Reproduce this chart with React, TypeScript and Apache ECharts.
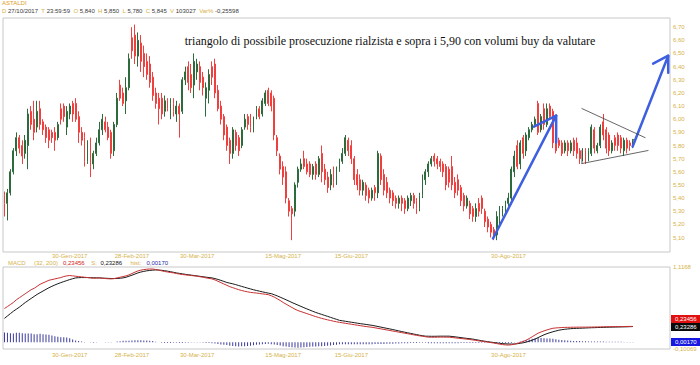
import React, { useEffect, useRef } from 'react';
import * as echarts from 'echarts';

// ---------- DATA ----------
const opens = [
  5.42, 5.36, 5.44, 5.60, 5.76, 5.86, 5.80, 5.74, 5.80, 6.06,
  6.00, 5.94, 6.08, 5.98, 5.94, 5.92, 5.90, 5.90, 5.86, 6.08,
  6.10, 5.94, 6.04, 6.12, 6.12, 6.02, 5.90, 5.86, 5.68, 5.82,
  5.66, 5.74, 5.82, 5.92, 5.98, 5.94, 5.90, 5.76, 5.96, 6.26,
  6.20, 6.14, 6.24, 6.62, 6.64, 6.48, 6.58, 6.50, 6.44, 6.42,
  6.32, 6.20, 6.16, 6.16, 6.06, 6.14, 6.08, 6.12, 6.04, 6.10,
  6.06, 6.30, 6.40, 6.34, 6.26, 6.36, 6.40, 6.32, 6.16, 6.22,
  6.40, 6.42, 6.22, 6.10, 6.02, 5.94, 5.84, 5.74, 5.90, 5.86,
  5.80, 5.94, 6.02, 6.00, 5.92, 6.02, 6.08, 6.04, 6.12, 6.22,
  6.20, 6.16, 5.86, 5.72, 5.64, 5.60, 5.38, 5.32, 5.30, 5.52,
  5.62, 5.70, 5.66, 5.66, 5.58, 5.66, 5.58, 5.74, 5.62, 5.56,
  5.50, 5.62, 5.54, 5.62, 5.68, 5.74, 5.84, 5.80, 5.70, 5.58,
  5.54, 5.46, 5.50, 5.46, 5.40, 5.48, 5.44, 5.72, 5.58, 5.52,
  5.46, 5.44, 5.40, 5.36, 5.40, 5.38, 5.32, 5.38, 5.42, 5.38,
  5.32, 5.42, 5.54, 5.60, 5.66, 5.72, 5.70, 5.68, 5.66, 5.64,
  5.62, 5.64, 5.52, 5.54, 5.48, 5.42, 5.34, 5.36, 5.32, 5.26,
  5.36, 5.40, 5.30, 5.24, 5.20, 5.16, 5.12, 5.22, 5.28, 5.30,
  5.36, 5.40, 5.60, 5.80, 5.66, 5.86, 5.76, 5.86, 5.92, 5.96,
  6.12, 5.92, 6.08, 5.96, 6.10, 6.06, 5.86, 5.84, 5.82, 5.76,
  5.82, 5.76, 5.84, 5.82, 5.76, 5.72, 5.76, 5.70, 5.74, 5.92,
  5.76, 5.80, 5.98, 5.92, 5.88, 5.76, 5.86, 5.88, 5.86, 5.76,
  5.84, 5.82, 5.84,
];
const closes = [
  5.36, 5.44, 5.60, 5.76, 5.86, 5.78, 5.72, 5.84, 6.04, 5.96,
  5.90, 6.06, 5.96, 5.92, 5.86, 5.84, 5.86, 5.84, 5.96, 6.00,
  6.02, 6.06, 6.10, 6.04, 6.00, 5.90, 5.84, 5.68, 5.78, 5.64,
  5.74, 5.82, 5.92, 6.00, 5.92, 5.86, 5.74, 5.96, 6.16, 6.16,
  6.12, 6.24, 6.46, 6.52, 6.48, 6.60, 6.44, 6.40, 6.34, 6.28,
  6.18, 6.12, 6.08, 6.04, 6.14, 6.08, 6.12, 6.06, 6.10, 6.04,
  6.30, 6.36, 6.28, 6.24, 6.44, 6.42, 6.28, 6.24, 6.24, 6.34,
  6.32, 6.20, 6.08, 6.00, 5.88, 5.80, 5.74, 5.92, 5.80, 5.76,
  5.92, 6.00, 5.96, 5.94, 6.00, 6.08, 6.02, 6.14, 6.20, 6.12,
  6.10, 5.88, 5.76, 5.62, 5.56, 5.40, 5.30, 5.28, 5.50, 5.62,
  5.66, 5.64, 5.60, 5.58, 5.64, 5.58, 5.70, 5.60, 5.54, 5.48,
  5.58, 5.52, 5.62, 5.68, 5.74, 5.86, 5.76, 5.70, 5.54, 5.50,
  5.46, 5.52, 5.42, 5.40, 5.46, 5.44, 5.74, 5.54, 5.46, 5.44,
  5.40, 5.38, 5.36, 5.40, 5.36, 5.32, 5.40, 5.42, 5.36, 5.32,
  5.42, 5.56, 5.60, 5.66, 5.70, 5.68, 5.66, 5.64, 5.60, 5.50,
  5.52, 5.50, 5.44, 5.46, 5.38, 5.34, 5.40, 5.28, 5.26, 5.32,
  5.30, 5.32, 5.22, 5.18, 5.14, 5.12, 5.26, 5.30, 5.32, 5.36,
  5.40, 5.62, 5.72, 5.64, 5.82, 5.74, 5.88, 5.92, 5.96, 6.00,
  5.90, 6.02, 5.96, 6.08, 6.02, 5.82, 5.76, 5.80, 5.74, 5.82,
  5.76, 5.82, 5.76, 5.74, 5.70, 5.76, 5.72, 5.76, 5.94, 5.78,
  5.80, 5.94, 5.88, 5.78, 5.76, 5.82, 5.80, 5.80, 5.78, 5.84,
  5.78, 5.80, 5.845,
];
const lows = [
  5.26, 5.23, 5.42, 5.58, 5.72, 5.74, 5.66, 5.70, 5.62, 5.92,
  5.84, 5.90, 5.92, 5.88, 5.82, 5.78, 5.82, 5.76, 5.84, 5.96,
  5.98, 5.88, 6.00, 5.98, 5.98, 5.82, 5.80, 5.64, 5.66, 5.56,
  5.62, 5.72, 5.80, 5.88, 5.90, 5.84, 5.70, 5.72, 5.94, 6.14,
  6.10, 6.04, 6.22, 6.46, 6.42, 6.40, 6.36, 6.32, 6.30, 6.24,
  6.14, 6.08, 5.96, 6.00, 6.02, 6.06, 6.00, 6.02, 5.98, 5.86,
  6.04, 6.26, 6.22, 6.20, 6.16, 6.30, 6.22, 6.18, 6.02, 6.12,
  6.26, 6.16, 6.06, 5.96, 5.84, 5.76, 5.66, 5.70, 5.76, 5.72,
  5.78, 5.92, 5.92, 5.90, 5.90, 6.00, 6.00, 6.02, 6.10, 6.10,
  6.06, 5.84, 5.72, 5.58, 5.50, 5.36, 5.26, 5.08, 5.26, 5.48,
  5.60, 5.62, 5.58, 5.56, 5.54, 5.54, 5.56, 5.52, 5.50, 5.44,
  5.46, 5.48, 5.50, 5.60, 5.66, 5.72, 5.72, 5.66, 5.50, 5.46,
  5.42, 5.42, 5.38, 5.36, 5.38, 5.38, 5.40, 5.50, 5.42, 5.40,
  5.36, 5.34, 5.32, 5.32, 5.30, 5.28, 5.30, 5.34, 5.32, 5.28,
  5.30, 5.40, 5.50, 5.56, 5.64, 5.64, 5.62, 5.60, 5.56, 5.46,
  5.48, 5.46, 5.40, 5.42, 5.34, 5.30, 5.32, 5.24, 5.22, 5.22,
  5.26, 5.28, 5.18, 5.14, 5.10, 5.08, 5.08, 5.18, 5.26, 5.28,
  5.34, 5.38, 5.56, 5.62, 5.62, 5.70, 5.72, 5.84, 5.90, 5.94,
  5.88, 5.90, 5.92, 5.94, 6.00, 5.78, 5.74, 5.78, 5.72, 5.74,
  5.72, 5.74, 5.72, 5.70, 5.66, 5.68, 5.66, 5.68, 5.72, 5.74,
  5.74, 5.78, 5.84, 5.74, 5.72, 5.74, 5.76, 5.76, 5.74, 5.72,
  5.74, 5.76, 5.78,
];
const highs = [
  5.45, 5.47, 5.62, 5.78, 5.90, 5.88, 5.84, 5.88, 6.08, 6.10,
  6.14, 6.14, 6.14, 6.00, 5.96, 5.94, 5.92, 5.94, 5.98, 6.12,
  6.12, 6.10, 6.12, 6.14, 6.16, 6.06, 5.94, 5.90, 5.84, 5.86,
  5.76, 5.86, 5.98, 6.04, 6.02, 5.98, 5.92, 5.98, 6.20, 6.30,
  6.24, 6.32, 6.50, 6.70, 6.72, 6.66, 6.64, 6.56, 6.50, 6.48,
  6.36, 6.24, 6.20, 6.20, 6.18, 6.16, 6.16, 6.16, 6.14, 6.12,
  6.32, 6.40, 6.44, 6.42, 6.50, 6.46, 6.44, 6.36, 6.28, 6.38,
  6.44, 6.46, 6.26, 6.14, 6.04, 5.96, 5.86, 5.94, 5.92, 5.88,
  5.94, 6.04, 6.04, 6.04, 6.02, 6.10, 6.10, 6.16, 6.22, 6.24,
  6.22, 6.18, 5.88, 5.74, 5.68, 5.64, 5.40, 5.34, 5.52, 5.64,
  5.70, 5.76, 5.70, 5.68, 5.66, 5.68, 5.72, 5.80, 5.66, 5.60,
  5.62, 5.64, 5.64, 5.70, 5.78, 5.88, 5.86, 5.84, 5.72, 5.62,
  5.58, 5.54, 5.52, 5.48, 5.48, 5.50, 5.76, 5.74, 5.62, 5.56,
  5.48, 5.46, 5.42, 5.42, 5.42, 5.40, 5.42, 5.44, 5.44, 5.40,
  5.44, 5.58, 5.62, 5.68, 5.72, 5.74, 5.72, 5.70, 5.68, 5.66,
  5.64, 5.72, 5.56, 5.58, 5.50, 5.44, 5.42, 5.38, 5.34, 5.36,
  5.40, 5.42, 5.32, 5.26, 5.22, 5.18, 5.30, 5.34, 5.34, 5.38,
  5.44, 5.64, 5.76, 5.84, 5.84, 5.88, 5.90, 5.94, 5.98, 6.02,
  6.14, 6.04, 6.12, 6.12, 6.12, 6.08, 5.88, 5.86, 5.84, 5.84,
  5.84, 5.84, 5.86, 5.86, 5.78, 5.78, 5.78, 5.78, 5.96, 5.94,
  5.82, 5.96, 6.04, 5.94, 5.90, 5.84, 5.88, 5.90, 5.88, 5.86,
  5.86, 5.84, 5.85,
];
// MACD (32, 200) line and its signal line
const macdLine = [
  0.50, 0.53, 0.56, 0.59, 0.63,
  0.66, 0.69, 0.72, 0.75, 0.78, 0.80, 0.83, 0.86,
  0.88, 0.90, 0.92, 0.93, 0.94, 0.95, 0.96, 0.975,
  0.985, 0.99, 0.985, 0.98, 0.975,
  0.97, 0.965, 0.96, 0.955, 0.95, 0.952,
  0.955, 0.95, 0.945, 0.942,
  0.94, 0.945, 0.955, 0.965, 0.975,
  0.985, 1.00, 1.02, 1.04,
  1.058, 1.07, 1.078, 1.084, 1.087,
  1.087, 1.08, 1.07, 1.06, 1.05,
  1.043, 1.035, 1.03, 1.02, 1.012, 1.005,
  1.00, 0.995, 0.99, 0.985, 0.98, 0.972, 0.965, 0.955, 0.948,
  0.94, 0.925, 0.905, 0.885, 0.865, 0.845, 0.825,
  0.81, 0.795, 0.78, 0.768, 0.757, 0.748, 0.74,
  0.735, 0.73, 0.724, 0.718, 0.712,
  0.706, 0.69, 0.67, 0.645, 0.62,
  0.59, 0.565, 0.54, 0.515, 0.49,
  0.47, 0.455, 0.44, 0.425, 0.41, 0.395, 0.38, 0.367,
  0.354, 0.343, 0.332, 0.322, 0.312, 0.303,
  0.295, 0.288, 0.281, 0.274, 0.267, 0.26, 0.253, 0.246, 0.239, 0.232, 0.227,
  0.222, 0.214, 0.206, 0.198, 0.19, 0.182, 0.174, 0.166, 0.158, 0.15, 0.142,
  0.134, 0.126, 0.118, 0.11, 0.102, 0.095, 0.088, 0.081,
  0.075, 0.074, 0.074, 0.075, 0.076, 0.076, 0.075,
  0.075, 0.07, 0.065, 0.06, 0.055, 0.05,
  0.046, 0.04, 0.034, 0.027, 0.02, 0.013, 0.007,
  0.002, -0.005, -0.012, -0.02, -0.028, -0.035, -0.04,
  -0.042, -0.038, -0.03, -0.018, -0.004, 0.012,
  0.031, 0.055, 0.08, 0.108,
  0.134, 0.152, 0.168, 0.183, 0.196,
  0.207, 0.212, 0.215, 0.218, 0.22, 0.221,
  0.222, 0.223, 0.223, 0.224, 0.224, 0.224, 0.225, 0.225, 0.226,
  0.227, 0.228, 0.229, 0.23, 0.231, 0.231, 0.232, 0.232, 0.233, 0.233, 0.234, 0.2345, 0.23456,
];
const signalLine = [
  0.354, 0.39, 0.425, 0.46, 0.49, 0.52, 0.555,
  0.589, 0.62, 0.65, 0.68, 0.71, 0.735, 0.76, 0.785,
  0.809, 0.83, 0.85, 0.868, 0.885, 0.9, 0.915, 0.93, 0.943,
  0.955, 0.958, 0.96, 0.96, 0.96, 0.958, 0.957, 0.956,
  0.955, 0.952, 0.95, 0.948, 0.946, 0.945, 0.946, 0.95,
  0.955, 0.965, 0.98, 0.995, 1.012,
  1.029, 1.042, 1.052, 1.06, 1.066, 1.07,
  1.073, 1.072, 1.068, 1.062, 1.055, 1.047, 1.038,
  1.029, 1.022, 1.015, 1.008, 1.002, 0.996, 0.99, 0.984, 0.978, 0.972, 0.966, 0.96,
  0.955, 0.945, 0.932, 0.918, 0.903, 0.887, 0.877,
  0.867, 0.855, 0.842, 0.829, 0.816, 0.803, 0.791,
  0.779, 0.768, 0.758, 0.748, 0.738, 0.729,
  0.721, 0.705, 0.688, 0.669, 0.65, 0.63, 0.61,
  0.589, 0.57, 0.551, 0.532, 0.513, 0.495, 0.477, 0.459,
  0.442, 0.427, 0.413, 0.398, 0.384, 0.369, 0.354, 0.34,
  0.325, 0.318, 0.311, 0.304, 0.297, 0.29, 0.283, 0.276, 0.27, 0.264, 0.257,
  0.251, 0.242, 0.233, 0.224, 0.215, 0.206, 0.197, 0.188, 0.178, 0.168, 0.158,
  0.149, 0.14, 0.131, 0.122, 0.113, 0.104, 0.097,
  0.09, 0.089, 0.088, 0.088, 0.089, 0.09, 0.09, 0.09,
  0.09, 0.085, 0.08, 0.074, 0.068, 0.062, 0.057, 0.052,
  0.046, 0.038, 0.03, 0.022, 0.015, 0.008,
  0.002, -0.004, -0.01, -0.016, -0.021, -0.024, -0.026,
  -0.027, -0.026, -0.022, -0.016, -0.008,
  0.002, 0.015, 0.03, 0.048, 0.068,
  0.09, 0.11, 0.127, 0.142, 0.155, 0.167,
  0.178, 0.186, 0.192, 0.197, 0.201, 0.204, 0.206,
  0.207, 0.209, 0.211, 0.213, 0.215, 0.216, 0.218, 0.219, 0.22,
  0.222, 0.223, 0.224, 0.225, 0.226, 0.227, 0.228, 0.229, 0.231, 0.23286,
];

// categories: trading days of Borsa Italiana
const START_DAY = '2016-12-29';
const HOLIDAYS = ['2017-04-14', '2017-04-17', '2017-05-01', '2017-08-15'];
const MONTHS = ['Gen', 'Feb', 'Mar', 'Apr', 'Mag', 'Giu', 'Lug', 'Ago', 'Set', 'Ott', 'Nov', 'Dic'];
const FUTURE_SLOTS = 12;
const tickDates = ['30-Gen-2017', '28-Feb-2017', '30-Mar-2017', '15-Mag-2017', '15-Giu-2017', '30-Ago-2017'];

const priceTickLabels = { from: 5.1, to: 6.7 };
const priceAxisRange = { min: 4.99, max: 6.77 };
const macdAxisRange = { min: -0.10069, max: 1.1168 };
const lastPriceLabel = 5.846;

// header info
const symbolName = 'ASTALDI';
const headerDate = '27/10/2017';
const headerTime = '23:59:59';
const headerVolume = '103027';
const headerVarPct = '-0,25598';
const macdParams = '(32, 200)';
const noteText = 'triangolo di possibile prosecuzione rialzista e sopra i 5,90 con volumi buy da valutare';

// drawn annotations (category index, price)
const arrowUpShaft = [[164.8, 5.093], [186.1, 6.027]];
const arrowUpHead = [[178.6, 5.944], [186.1, 6.027], [186.1, 5.822]];
const arrowNextShaft = [[211.9, 5.792], [223.9, 6.483]];
const arrowNextHead = [[218.8, 6.423], [223.9, 6.483], [223.9, 6.354]];
const triangleUpper = [[194.8, 6.081], [216.1, 5.860]];
const triangleLower = [[194.8, 5.663], [217.1, 5.762]];
const triangleSide = [[194.8, 5.764], [194.8, 5.663]];

// ---------- helpers ----------
function buildDates(count: number): string[] {
  const out: string[] = [];
  const d = new Date(START_DAY + 'T12:00:00Z');
  while (out.length < count) {
    const wd = d.getUTCDay();
    const iso = d.toISOString().slice(0, 10);
    if (wd !== 0 && wd !== 6 && HOLIDAYS.indexOf(iso) < 0) {
      out.push(String(d.getUTCDate()).padStart(2, '0') + '-' + MONTHS[d.getUTCMonth()] + '-' + d.getUTCFullYear());
    }
    d.setUTCDate(d.getUTCDate() + 1);
  }
  return out;
}
const fmt = (v: number, dec: number) => v.toFixed(dec).replace('.', ',');

const YELLOW = '#d6b24a';
const LABEL_ORANGE = '#e09a2a';
const SANS = 'Liberation Sans';
const UP = '#2d6a3c';
const DOWN = '#ef4040';
const BLUE = '#3d5fe0';

function buildOption() {
  const n = closes.length;
  const total = n + FUTURE_SLOTS;
  const dates = buildDates(total);
  const candles = opens.map((o, i) => [o, closes[i], lows[i], highs[i]]);
  const hist = macdLine.map((m, i) => +(m - signalLine[i]).toFixed(5));
  const last = n - 1;

  const annot = (pts: number[][], color: string, width: number) => ({
    type: 'line',
    xAxisIndex: 2,
    yAxisIndex: 0,
    data: pts,
    symbol: 'none',
    silent: true,
    clip: false,
    z: 10,
    lineStyle: { color, width, cap: 'round', join: 'round' },
  });

  const headerRich = [
    ['D', headerDate], ['T', headerTime], ['O', fmt(opens[last], 3)], ['H', fmt(highs[last], 3)],
    ['L', fmt(lows[last], 3)], ['C', fmt(closes[last], 3)], ['V', headerVolume], ['Var%', headerVarPct],
  ].map(([k, v]) => `{k|${k}} {v|${v}}`).join('  ');

  const macdLast = macdLine[last];
  const sigLast = signalLine[last];
  const histLast = macdLast - sigLast;
  const macdHeader = `{k|MACD}     {k|${macdParams}}   {r|${fmt(macdLast, 5)}}    {k|S:}  {b|${fmt(sigLast, 5)}}     {k|hist:}   {u|${fmt(histLast, 5)}}`;

  const xLabel = (margin: number) => ({
    show: true,
    interval: (_i: number, v: string) => tickDates.indexOf(v) >= 0,
    color: YELLOW,
    fontSize: 6,
    fontFamily: SANS,
    margin,
  });

  return {
    animation: false,
    backgroundColor: '#ffffff',
    grid: [
      { left: 3, right: 30, top: 18, height: 234, show: true, borderColor: '#c8c8c8', borderWidth: 1 },
      { left: 3, right: 30, top: 267, height: 82, show: true, borderColor: '#c8c8c8', borderWidth: 1 },
    ],
    xAxis: [
      { type: 'category', gridIndex: 0, data: dates, boundaryGap: true, axisLine: { show: false }, axisTick: { show: false }, splitLine: { show: false }, axisLabel: xLabel(1) },
      { type: 'category', gridIndex: 1, data: dates, boundaryGap: true, axisLine: { show: false }, axisTick: { show: false }, splitLine: { show: false }, axisLabel: xLabel(3) },
      { type: 'value', gridIndex: 0, min: -0.5, max: total - 0.5, show: false },
    ],
    yAxis: [
      {
        type: 'value', gridIndex: 0, position: 'right', min: priceAxisRange.min, max: priceAxisRange.max, interval: 0.01,
        axisLine: { show: false }, axisTick: { show: false }, splitLine: { show: false },
        axisLabel: {
          color: YELLOW, fontSize: 6, fontFamily: SANS, margin: 3,
          formatter: (v: number) => {
            const r = Math.round(v * 100);
            if (r % 10 === 0 && r >= Math.round(priceTickLabels.from * 100) && r <= Math.round(priceTickLabels.to * 100)) return fmt(r / 100, 2);
            return '';
          },
        },
      },
      {
        type: 'value', gridIndex: 1, position: 'right', min: macdAxisRange.min, max: macdAxisRange.max,
        axisLine: { show: false }, axisTick: { show: false }, splitLine: { show: false },
        axisLabel: {
          color: YELLOW, fontSize: 6, fontFamily: SANS, margin: 3, showMinLabel: true, showMaxLabel: true,
          formatter: (v: number) => {
            if (Math.abs(v - macdAxisRange.max) < 1e-7) return String(macdAxisRange.max).replace('.', ',');
            if (Math.abs(v - macdAxisRange.min) < 1e-7) return String(macdAxisRange.min).replace('.', ',');
            return '';
          },
        },
      },
    ],
    series: [
      {
        type: 'candlestick', xAxisIndex: 0, yAxisIndex: 0, data: candles, barWidth: 1.4,
        itemStyle: { color: UP, color0: DOWN, borderColor: UP, borderColor0: DOWN, borderWidth: 1 },
        markLine: {
          silent: true, symbol: 'none', animation: false,
          lineStyle: { opacity: 0 },
          data: [{ yAxis: lastPriceLabel }],
          label: {
            position: 'end', distance: 2, formatter: fmt(lastPriceLabel, 3),
            backgroundColor: '#c4c4c4', color: '#1a1a1a', fontSize: 6, fontFamily: SANS, padding: [1, 5, 1, 5],
          },
        },
      },
      annot(arrowUpShaft, BLUE, 2.5),
      annot(arrowUpHead, BLUE, 2.5),
      annot(arrowNextShaft, BLUE, 2.5),
      annot(arrowNextHead, BLUE, 2.5),
      annot(triangleUpper, '#404040', 0.8),
      annot(triangleLower, '#404040', 0.8),
      annot(triangleSide, '#404040', 0.8),
      {
        type: 'bar', xAxisIndex: 1, yAxisIndex: 1, data: hist, barWidth: 1,
        itemStyle: { color: '#3a3a9c' }, silent: true,
      },
      {
        type: 'line', xAxisIndex: 1, yAxisIndex: 1, data: signalLine, symbol: 'none', silent: true,
        lineStyle: { color: '#1a1a1a', width: 1 },
      },
      {
        type: 'line', xAxisIndex: 1, yAxisIndex: 1, data: macdLine, symbol: 'none', silent: true,
        lineStyle: { color: '#c83030', width: 1 },
      },
    ],
    graphic: [
      { type: 'text', left: 2, top: 0, silent: true, style: { text: symbolName, fill: LABEL_ORANGE, fontSize: 6, fontFamily: SANS } },
      {
        type: 'text', left: 2, top: 8, silent: true,
        style: {
          text: headerRich, fontSize: 6, fontFamily: SANS,
          rich: { k: { fill: YELLOW, fontSize: 6, fontFamily: SANS }, v: { fill: '#3a3a3a', fontSize: 6, fontFamily: SANS } },
        },
      },
      {
        type: 'text', x: 390, y: 41, silent: true,
        style: { text: noteText, fill: '#111', fontSize: 12, fontFamily: 'Liberation Serif', textAlign: 'center', textVerticalAlign: 'middle' },
      },
      {
        type: 'text', left: 8, top: 260, silent: true,
        style: {
          text: macdHeader, fontSize: 6, fontFamily: SANS,
          rich: {
            k: { fill: YELLOW, fontSize: 6, fontFamily: SANS },
            r: { fill: '#d02020', fontSize: 6, fontFamily: SANS },
            b: { fill: '#111', fontSize: 6, fontFamily: SANS },
            u: { fill: '#2a2aa8', fontSize: 6, fontFamily: SANS },
          },
        },
      },
      { type: 'text', left: 671, top: 315, silent: true, style: { text: fmt(macdLast, 5), fill: '#fff', backgroundColor: '#e01010', padding: [1, 4, 1, 4], fontSize: 6, fontFamily: SANS } },
      { type: 'text', left: 671, top: 323, silent: true, style: { text: fmt(sigLast, 5), fill: '#fff', backgroundColor: '#0a0a0a', padding: [1, 4, 1, 4], fontSize: 6, fontFamily: SANS } },
      { type: 'text', left: 671, top: 338, silent: true, style: { text: fmt(histLast, 5), fill: '#fff', backgroundColor: '#1818e0', padding: [1, 4, 1, 4], fontSize: 6, fontFamily: SANS } },
    ],
  };
}

export default function App() {
  const ref = useRef<HTMLDivElement>(null);
  useEffect(() => {
    if (!ref.current) return;
    const chart = echarts.init(ref.current, null, { renderer: 'svg' });
    chart.setOption(buildOption() as any);
    return () => chart.dispose();
  }, []);
  return (
    <div
      ref={ref}
      style={{ position: 'absolute', left: 0, top: 0, width: 700, height: 365, background: '#ffffff' }}
    />
  );
}
